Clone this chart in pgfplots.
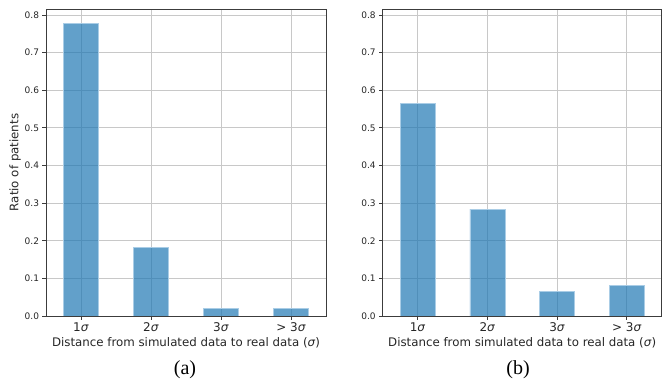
\documentclass[border=0pt]{standalone}
\usepackage{fontspec}
\setmainfont{DejaVu Sans}
\newfontfamily\capfont{Liberation Serif}
\usepackage{pgfplots}
\pgfplotsset{compat=1.18}
\definecolor{barblue}{RGB}{31,119,180}
\definecolor{baredge}{RGB}{170,205,230}
\definecolor{spine}{RGB}{60,60,60}
\definecolor{gridc}{RGB}{200,200,200}
\pgfplotsset{
  mystyle/.style={
    scale only axis, width=280bp, height=307bp,
    anchor=south west,
    xmin=-0.5, xmax=3.5, ymin=0, ymax=0.816,
    xtick={0,1,2,3},
    xticklabels={{1\textit{σ}},{2\textit{σ}},{3\textit{σ}},{> 3\textit{σ}}},
    ytick={0,0.1,0.2,0.3,0.4,0.5,0.6,0.7,0.8},
    /pgf/number format/assume math mode=true,
    yticklabel style={font=\fontsize{9bp}{10bp}\selectfont, text=black!85,
      /pgf/number format/fixed, /pgf/number format/fixed zerofill, /pgf/number format/precision=1},
    xticklabel style={font=\fontsize{12bp}{14bp}\selectfont, text=black!85},
    label style={font=\fontsize{11.8bp}{14bp}\selectfont, text=black!85},
    grid=major, major grid style={gridc, line width=0.8bp},
    axis line style={spine, line width=0.8bp},
    major tick style={spine, line width=0.8bp}, major tick length=3.5bp,
    tick align=outside, tick pos=left,
    xlabel={Distance from simulated data to real data (\textit{σ})},
    xlabel style={at={(axis description cs:0.5,0)}, anchor=center, yshift=-27bp},
    ybar, bar width=35bp,
  },
  mybar/.style={fill=barblue, fill opacity=0.7, draw=baredge, line width=0.6bp},
}
\begin{document}
\begin{tikzpicture}
\path[use as bounding box] (0,0) rectangle (662bp,385bp);
\begin{axis}[mystyle, at={(46bp,69bp)},
  ylabel={Ratio of patients},
  ylabel style={at={(axis description cs:-0.1107,0.5)}, anchor=center}]
\addplot[mybar] coordinates {(0,0.777) (1,0.182) (2,0.021) (3,0.020)};
\end{axis}
\begin{axis}[mystyle, at={(382.7bp,69bp)}, width=279bp]
\addplot[mybar] coordinates {(0,0.566) (1,0.284) (2,0.065) (3,0.082)};
\end{axis}
\node[font=\capfont\fontsize{20bp}{24bp}\selectfont, anchor=center] at (185bp,15.5bp) {(a)};
\node[font=\capfont\fontsize{20bp}{24bp}\selectfont, anchor=center] at (518bp,15.5bp) {(b)};
\end{tikzpicture}
\end{document}
